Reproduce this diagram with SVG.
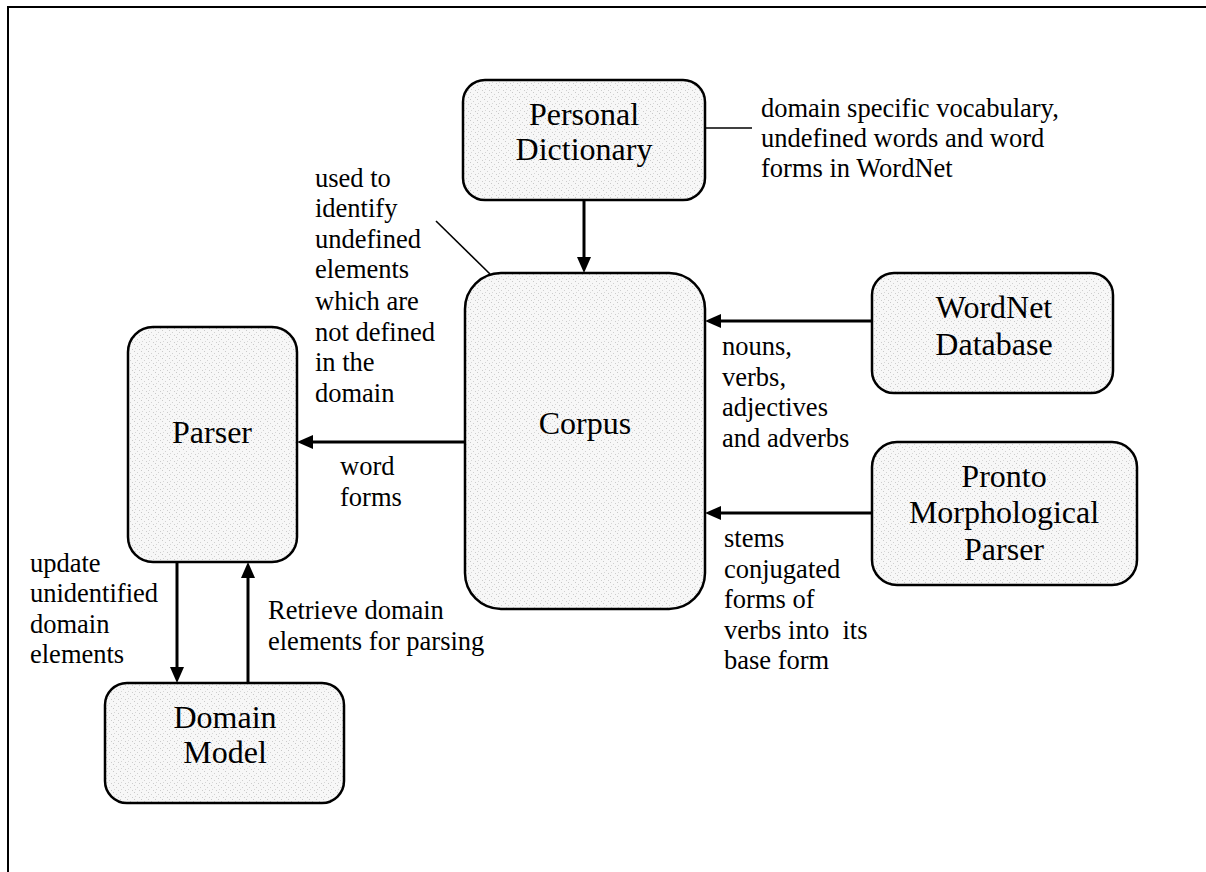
<svg xmlns="http://www.w3.org/2000/svg" width="1206" height="872" viewBox="0 0 1206 872">
  <style>
    .box { fill: url(#stipple); stroke: #000; stroke-width: 2.5; }
    .label { font-family: "Liberation Serif", "Times New Roman", serif; font-size: 32px; fill: #000; text-anchor: middle; }
    .note { font-family: "Liberation Serif", "Times New Roman", serif; font-size: 26.5px; fill: #000; white-space: pre; }
    .flow { stroke: #000; stroke-width: 3; fill: none; marker-end: url(#arrow); }
    .lead { stroke: #000; stroke-width: 1.6; fill: none; }
    .frame { stroke: #000; stroke-width: 2; fill: none; }
  </style>
  <defs>
    <pattern id="stipple" width="7" height="7" patternUnits="userSpaceOnUse">
      <rect width="7" height="7" fill="#f7f7f7"/>
      <rect x="1" y="1" width="1" height="1" fill="#c8c8c8"/>
      <rect x="4" y="3" width="1" height="1" fill="#d0d0d0"/>
      <rect x="2" y="5" width="1" height="1" fill="#d6d6d6"/>
      <rect x="6" y="6" width="1" height="1" fill="#cccccc"/>
    </pattern>
    <marker id="arrow" viewBox="0 0 16 14" refX="8" refY="7" markerWidth="16" markerHeight="14" markerUnits="userSpaceOnUse" orient="auto">
      <path d="M0,0 L16,7 L0,14 Z" fill="#000"/>
    </marker>
  </defs>

  <!-- page frame (top and left rules) -->
  <g id="frame">
    <line class="frame" x1="7" y1="7" x2="1206" y2="7"/>
    <line class="frame" x1="8" y1="6" x2="8" y2="872"/>
  </g>

  <!-- connectors -->
  <g id="connectors">
    <line class="flow" x1="584" y1="200" x2="584" y2="265"/>
    <line class="flow" x1="465" y1="442" x2="305" y2="442"/>
    <line class="flow" x1="872" y1="321" x2="713" y2="321"/>
    <line class="flow" x1="872" y1="513" x2="713" y2="513"/>
    <line class="flow" x1="177" y1="562" x2="177" y2="675"/>
    <line class="flow" x1="248" y1="683" x2="248" y2="570"/>
    <line class="lead" x1="705" y1="128" x2="752" y2="128"/>
    <line class="lead" x1="436" y1="221" x2="490" y2="274"/>
  </g>

  <g id="personal-dictionary">
    <rect class="box" x="463" y="80" width="242" height="120" rx="22"/>
    <text class="label" x="584" y="125">Personal</text>
    <text class="label" x="584" y="160">Dictionary</text>
  </g>

  <g id="corpus">
    <rect class="box" x="465" y="273" width="240" height="336" rx="36"/>
    <text class="label" x="585" y="434">Corpus</text>
  </g>

  <g id="parser">
    <rect class="box" x="128" y="327" width="169" height="235" rx="25"/>
    <text class="label" x="212" y="443">Parser</text>
  </g>

  <g id="domain-model">
    <rect class="box" x="105" y="683" width="239" height="120" rx="22"/>
    <text class="label" x="225" y="728">Domain</text>
    <text class="label" x="225" y="763">Model</text>
  </g>

  <g id="wordnet-database">
    <rect class="box" x="872" y="273" width="241" height="120" rx="22"/>
    <text class="label" x="994" y="318">WordNet</text>
    <text class="label" x="994" y="355">Database</text>
  </g>

  <g id="pronto-morphological-parser">
    <rect class="box" x="872" y="442" width="265" height="143" rx="25"/>
    <text class="label" x="1004" y="487">Pronto</text>
    <text class="label" x="1004" y="523">Morphological</text>
    <text class="label" x="1004" y="560">Parser</text>
  </g>

  <!-- annotations -->
  <g id="notes">
    <text class="note" x="761" y="117">domain specific vocabulary,</text>
    <text class="note" x="761" y="147">undefined words and word</text>
    <text class="note" x="761" y="177">forms in WordNet</text>

    <text class="note" x="315" y="187">used to</text>
    <text class="note" x="315" y="217">identify</text>
    <text class="note" x="315" y="248">undefined</text>
    <text class="note" x="315" y="278">elements</text>
    <text class="note" x="315" y="310">which are</text>
    <text class="note" x="315" y="341">not defined</text>
    <text class="note" x="315" y="371">in the</text>
    <text class="note" x="315" y="402">domain</text>

    <text class="note" x="340" y="475">word</text>
    <text class="note" x="340" y="506">forms</text>

    <text class="note" x="722" y="355">nouns,</text>
    <text class="note" x="722" y="386">verbs,</text>
    <text class="note" x="722" y="416">adjectives</text>
    <text class="note" x="722" y="447">and adverbs</text>

    <text class="note" x="724" y="547">stems</text>
    <text class="note" x="724" y="578">conjugated</text>
    <text class="note" x="724" y="608">forms of</text>
    <text class="note" x="724" y="639">verbs into  its</text>
    <text class="note" x="724" y="669">base form</text>

    <text class="note" x="30" y="572">update</text>
    <text class="note" x="30" y="602">unidentified</text>
    <text class="note" x="30" y="633">domain</text>
    <text class="note" x="30" y="663">elements</text>

    <text class="note" x="268" y="619">Retrieve domain</text>
    <text class="note" x="268" y="650">elements for parsing</text>
  </g>
</svg>
